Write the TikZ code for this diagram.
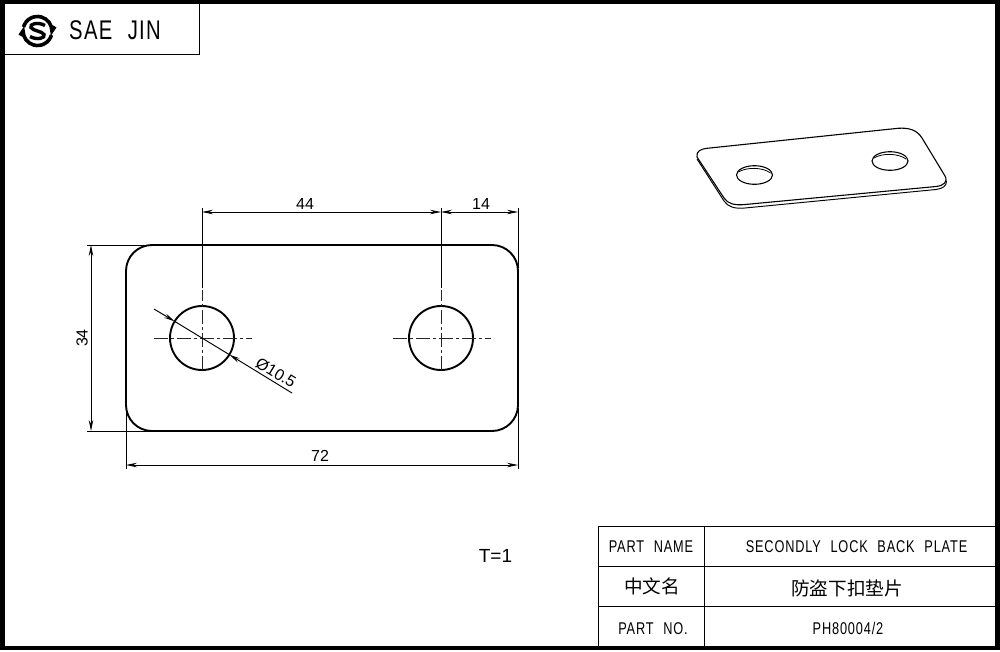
\documentclass[tikz,border=0pt]{standalone}
\usepackage{fontspec}
\usepackage{tikz}
\usetikzlibrary{arrows.meta}
\setmainfont{Liberation Sans}
\newfontfamily\cadfont[FakeStretch=0.75,LetterSpace=5,WordSpace=2.2]{Liberation Sans}
\newfontfamily\cjkfont{Noto Sans CJK SC}
\tikzset{
  outline/.style={line width=1.9pt, black},
  thinline/.style={line width=0.95pt, black},
  centerline/.style={line width=1pt, black!85, dash pattern=on 14pt off 3pt on 3pt off 3pt},
  dimline/.style={thinline, {Stealth[length=11pt,width=4.5pt]}-{Stealth[length=11pt,width=4.5pt]}},
  leader/.style={thinline, -{Stealth[length=11pt,width=4.5pt]}},
  dimtext/.style={font=\fontsize{16}{16}\selectfont, inner sep=0pt},
  cadtext/.style={font=\cadfont\fontsize{17}{17}\selectfont, inner sep=0pt},
  cjktext/.style={font=\cjkfont\fontsize{18.6}{19}\selectfont, inner sep=0pt}
}
\begin{document}
\begin{tikzpicture}[x=1pt,y=-1pt]
        \useasboundingbox (0,0) rectangle (1000,651);
        \fill[white] (0,0) rectangle (1000,651);
        \draw[line width=4.5pt] (2.3,2) rectangle (997.7,648.2); % sheet frame
        \draw[thinline] (5,54) -- (199,54) -- (199,4);
        % logo
        \coordinate (logo) at (37.5,31);
        \draw[line width=3.6pt] (23.5,27) arc[start angle=196, end angle=360, radius=14.5] -- (55,26.5);
        \draw[line width=3.6pt] (51.5,35) arc[start angle=16, end angle=180, radius=14.5] -- (20,35.5);
        \draw[line width=3.4pt] (45,25.5) .. controls (38,21.5) and (29,24) .. (31,27.5) .. controls (33,31) and (42,31) .. (44,34.5) .. controls (46,38) and (37,40.5) .. (30,36.5);
        \node[font=\cadfont\fontsize{27}{27}\selectfont, inner sep=0pt, anchor=west] (brand) at (69,30) {SAE JIN};
        % main view
        \coordinate (holeL) at (202,338);
        \coordinate (holeR) at (441,338);
        \draw[outline, rounded corners=26pt] (126,245) rectangle (518,431);
        \foreach \h in {holeL,holeR} {
            \draw[outline] (\h) circle (32);
            \draw[centerline] ([xshift=-48pt]\h) -- ([xshift=50pt]\h);
            \draw[centerline] ([yshift=-32pt]\h) -- ([yshift=48pt]\h);
        }
        % dimensions
        \coordinate (dimA) at (202,212);
        \coordinate (dimB) at (441,212);
        \coordinate (dimC) at (518,212);
        \coordinate (dimD) at (91,245);
        \coordinate (dimE) at (91,431);
        \coordinate (dimF) at (126,465);
        \coordinate (dimG) at (518,465);
        \draw[thinline] (202,208) -- (202,288);
        \draw[thinline] (441,208) -- (441,288);
        \draw[thinline] (518,208) -- (518,268);
        \draw[thinline] (87,245) -- (150,245);
        \draw[thinline] (87,431) -- (150,431);
        \draw[thinline] (126,408) -- (126,469);
        \draw[thinline] (518,408) -- (518,469);
        \draw[dimline] (dimA) -- (dimB);
        \draw[dimline] (dimB) -- (dimC);
        \draw[dimline] (dimD) -- (dimE);
        \draw[dimline] (dimF) -- (dimG);
        \node[dimtext] (len44) at (305,204) {44};
        \node[dimtext] (len14) at (481,204) {14};
        \node[dimtext] (len72) at (320,456) {72};
        \node[dimtext, rotate=90] (len34) at (82,338) {34};
        % hole diameter
        \coordinate (diaA) at (154,309);
        \coordinate (diaB) at (174.7,321.4);
        \coordinate (diaC) at (229.3,354.6);
        \coordinate (diaD) at (292,393);
        \draw[leader] (diaA) -- (diaB);
        \draw[thinline] (diaB) -- (diaC);
        \draw[leader] (diaD) -- (diaC);
        \node[dimtext, rotate=-31] (dia) at (276,372.5) {Ø10.5};
        \node[font=\fontsize{19}{19}\selectfont, inner sep=0pt] (thick) at (495.5,556) {T=1};
        % small view of the plate
        \draw[line width=1.1pt] (697,157) .. controls (696,151) and (701,149) .. (707,148.3) -- (898,128.3) .. controls (909,127.5) and (917,130) .. (922,138) -- (945,176) .. controls (948,182) and (944,185.5) .. (936,186.5) -- (745,204.5) .. controls (735,205.5) and (728,204) .. (724,198) -- cycle;
        \draw[thinline] (697,159) -- (724,201) .. controls (728,207) and (735,209) .. (745,208) -- (936,189.5) .. controls (943,188.5) and (946.5,186) .. (946.5,181);
        \foreach \cx/\cy in {754.5/175,890/161} {
            \draw[line width=1.1pt] (\cx,\cy) ellipse [x radius=18, y radius=9.3];
            \draw[line width=0.8pt] (\cx-16,\cy-3) .. controls (\cx-8,\cy-8) and (\cx+8,\cy-8) .. (\cx+16,\cy-2);
        }
        % title block
        \draw[line width=1pt] (598,526) -- (997,526);
        \draw[line width=1pt] (598,566) -- (997,566);
        \draw[line width=1pt] (598,606) -- (997,606);
        \draw[line width=1pt] (598,526) -- (598,647);
        \draw[line width=1pt] (704.5,526) -- (704.5,647);
        \node[cadtext] (partname) at (651,546.5) {PART NAME};
        \node[cadtext] (platename) at (856.5,546.5) {SECONDLY LOCK BACK PLATE};
        \node[cjktext] (cnname) at (652,586) {中文名};
        \node[cjktext] (cnplate) at (847,588) {防盗下扣垫片};
        \node[cadtext] (partno) at (653,628.5) {PART NO.};
        \node[cadtext] (plateno) at (848,628.5) {PH80004/2};
    \end{tikzpicture}
\end{document}
